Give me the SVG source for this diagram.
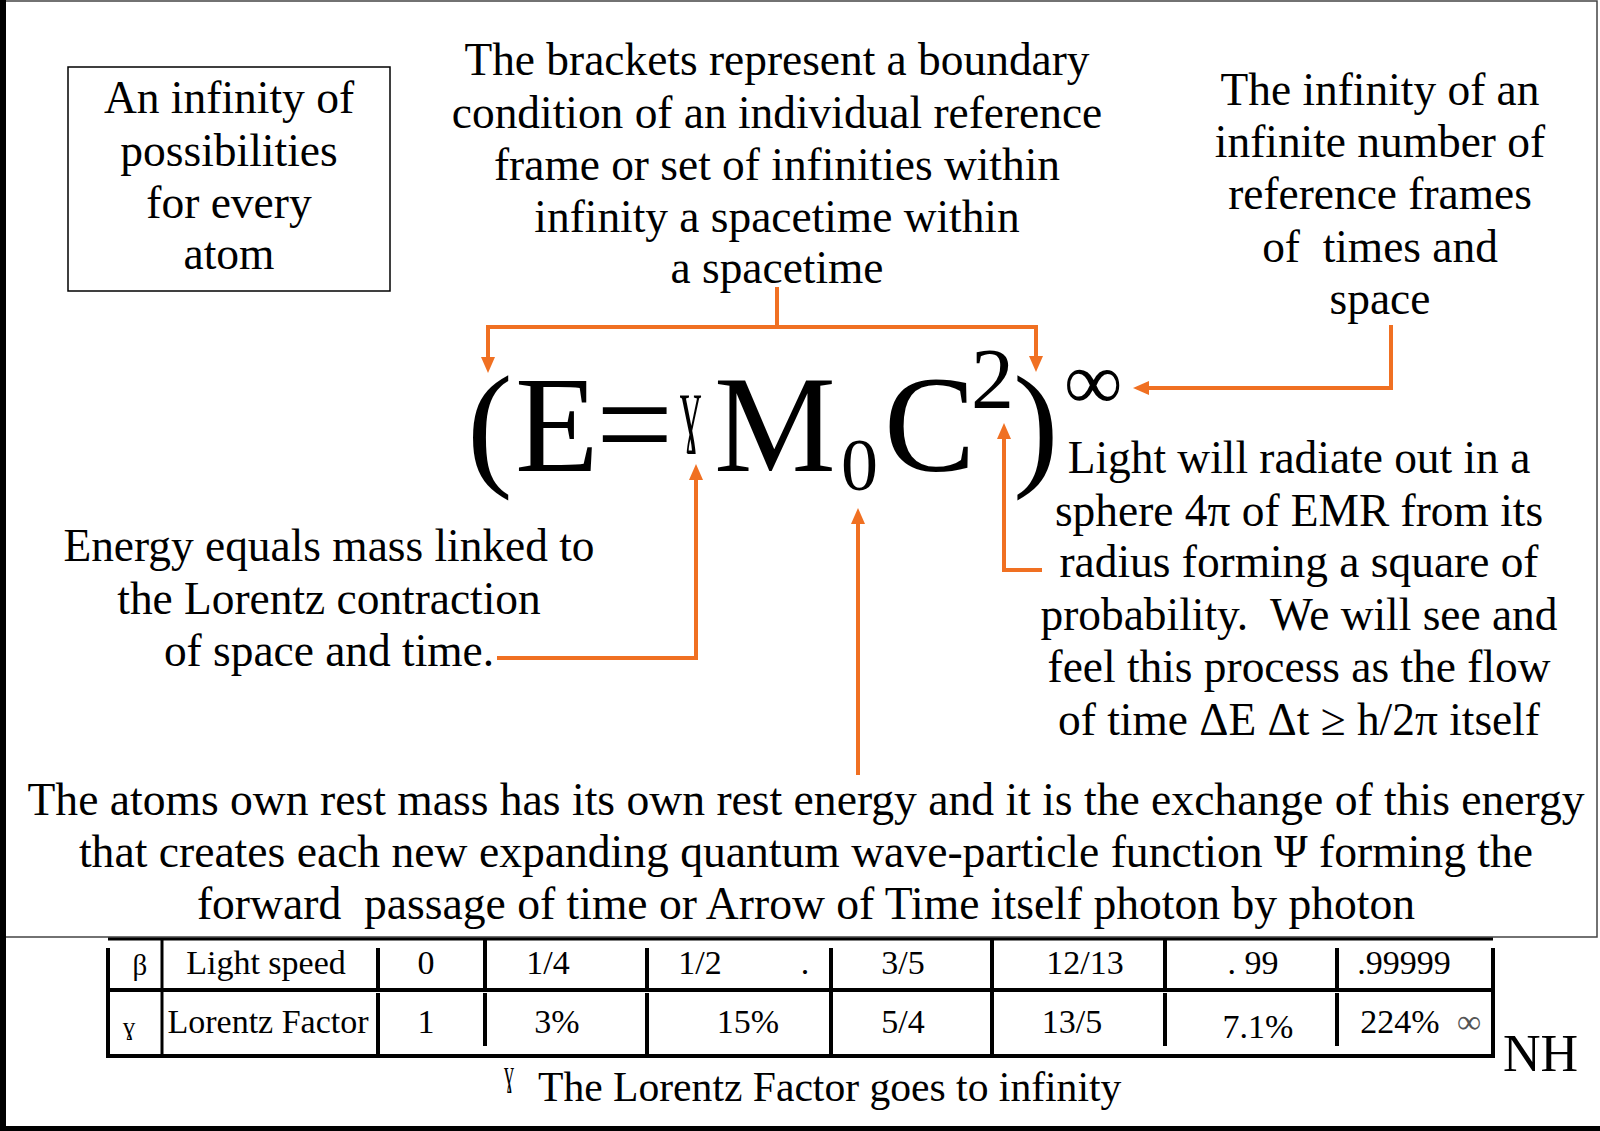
<svg xmlns="http://www.w3.org/2000/svg" width="1600" height="1131" viewBox="0 0 1600 1131">
<style>
text{font-family:"Liberation Serif","DejaVu Serif",serif;fill:#000}
.t45{font-size:45.4px;text-anchor:middle}
.t46{font-size:45.6px;text-anchor:middle}
.tbx{font-size:45.5px;text-anchor:middle}
.tb{font-size:34px;text-anchor:middle}
.eq{font-size:137px}
.con{fill:none;stroke:#F07022;stroke-width:4;stroke-linejoin:miter}
.tl{stroke:#000;stroke-width:4;fill:none}
.tl3{stroke:#000;stroke-width:3;fill:none}
</style>
<defs>
<marker id="ah" markerUnits="userSpaceOnUse" markerWidth="16" markerHeight="16" viewBox="0 0 16 16" refX="2" refY="8" orient="auto">
<path d="M0,1 L16,8 L0,15 Z" fill="#F07022"/>
</marker>
</defs>
<rect x="0" y="0" width="1600" height="1131" fill="#fff"/>
<g id="frame">
<path d="M1,1 H1597 V937 H0" fill="none" stroke="#444" stroke-width="1.5"/>
<rect x="0" y="0" width="6" height="1131" fill="#000"/>
<rect x="0" y="1126" width="1600" height="5" fill="#000"/>
</g>
<g id="box-infinity">
<rect x="68" y="67" width="322" height="224" fill="none" stroke="#000" stroke-width="1.5"/>
<text class="tbx" x="229" y="113">An infinity of</text>
<text class="tbx" x="229" y="166">possibilities</text>
<text class="tbx" x="229" y="218">for every</text>
<text class="tbx" x="229" y="269">atom</text>
</g>
<g id="brackets-note">
<text class="t45" x="777" y="75">The brackets represent a boundary</text>
<text class="t45" x="777" y="128">condition of an individual reference</text>
<text class="t45" x="777" y="180">frame or set of infinities within</text>
<text class="t45" x="777" y="232">infinity a spacetime within</text>
<text class="t45" x="777" y="283">a spacetime</text>
</g>
<g id="infinity-note">
<text class="t45" x="1380" y="105">The infinity of an</text>
<text class="t45" x="1380" y="157">infinite number of</text>
<text class="t45" x="1380" y="209">reference frames</text>
<text class="t45" x="1380" y="262" xml:space="preserve">of  times and</text>
<text class="t45" x="1380" y="314">space</text>
</g>
<g id="equation">
<text class="eq" x="467" y="471">(</text>
<text class="eq" x="515" y="471">E</text>
<text class="eq" x="596" y="471">=</text>
<text transform="translate(680,435) scale(0.49,1)" font-size="86">ɣ</text>
<text class="eq" x="714" y="471">M</text>
<text x="841" y="490" font-size="74">0</text>
<text class="eq" x="884" y="471">C</text>
<text x="971" y="408" font-size="86">2</text>
<text class="eq" x="1013" y="471">)</text>
<text x="1064" y="409" font-size="82">∞</text>
</g>
<g id="lorentz-note">
<text class="t45" x="329" y="561">Energy equals mass linked to</text>
<text class="t45" x="329" y="614">the Lorentz contraction</text>
<text class="t45" x="329" y="666">of space and time.</text>
</g>
<g id="light-note">
<text class="t45" x="1299" y="473">Light will radiate out in a</text>
<text class="t45" x="1299" y="526">sphere 4π of EMR from its</text>
<text class="t45" x="1299" y="577">radius forming a square of</text>
<text class="t45" x="1299" y="630" xml:space="preserve">probability.  We will see and</text>
<text class="t45" x="1299" y="682">feel this process as the flow</text>
<text class="t45" x="1299" y="735">of time ΔE Δt ≥ h/2π itself</text>
</g>
<g id="rest-mass-note">
<text class="t46" x="806" y="815">The atoms own rest mass has its own rest energy and it is the exchange of this energy</text>
<text class="t46" x="806" y="867">that creates each new expanding quantum wave-particle function Ψ forming the</text>
<text class="t46" x="806" y="919" xml:space="preserve">forward  passage of time or Arrow of Time itself photon by photon</text>
</g>
<g id="connectors">
<path class="con" d="M777,287 V327 H488 V359" marker-end="url(#ah)"/>
<path class="con" d="M777,327 H1036 V358" marker-end="url(#ah)"/>
<path class="con" d="M1391,325 V388 H1147" marker-end="url(#ah)"/>
<path class="con" d="M1042,570 H1004 V437" marker-end="url(#ah)"/>
<path class="con" d="M497,658 H696 V478" marker-end="url(#ah)"/>
<path class="con" d="M858,775 V522" marker-end="url(#ah)"/>
</g>
<g id="table">
<path class="tl3" d="M108,939 H1493"/>
<path class="tl" d="M108,990 H1493"/>
<path class="tl" d="M106,1056 H1495"/>
<path class="tl" d="M108,948 V1057"/>
<path class="tl3" d="M162,939 V1055"/>
<path class="tl" d="M378,948 V989 M378,993 V1055"/>
<path class="tl" d="M485,939 V989 M485,993 V1046"/>
<path class="tl" d="M647,948 V989 M647,993 V1055"/>
<path class="tl" d="M831,948 V1055"/>
<path class="tl" d="M992,939 V1055"/>
<path class="tl" d="M1165,939 V989 M1165,993 V1046"/>
<path class="tl" d="M1337,948 V989 M1337,993 V1046"/>
<path class="tl" d="M1493,948 V1057"/>
<text x="140" y="975" font-size="29" text-anchor="middle">β</text>
<text class="tb" x="266" y="974">Light speed</text>
<text class="tb" x="426" y="974">0</text>
<text class="tb" x="548" y="974">1/4</text>
<text class="tb" x="700" y="974">1/2</text>
<text class="tb" x="805" y="974">.</text>
<text class="tb" x="903" y="974">3/5</text>
<text class="tb" x="1085" y="974">12/13</text>
<text class="tb" x="1253" y="974">. 99</text>
<text class="tb" x="1404" y="974">.99999</text>
<text x="129" y="1035" font-size="25" text-anchor="middle" transform="translate(0,0)" dx="0">ɣ</text>
<text class="tb" x="268" y="1033">Lorentz Factor</text>
<text class="tb" x="426" y="1033">1</text>
<text class="tb" x="557" y="1033">3%</text>
<text class="tb" x="748" y="1033">15%</text>
<text class="tb" x="903" y="1033">5/4</text>
<text class="tb" x="1072" y="1033">13/5</text>
<text class="tb" x="1258" y="1038">7.1%</text>
<text class="tb" x="1400" y="1033">224%</text>
<text x="1457" y="1033" font-size="34" style="fill:#555">∞</text>
</g>
<g id="caption">
<text transform="translate(504,1085) scale(0.57,1)" font-size="35">ɣ</text>
<text x="538" y="1101" font-size="41.6">The Lorentz Factor goes to infinity</text>
</g>
<g id="signature">
<text x="1503" y="1071" font-size="52">NH</text>
</g>
</svg>
